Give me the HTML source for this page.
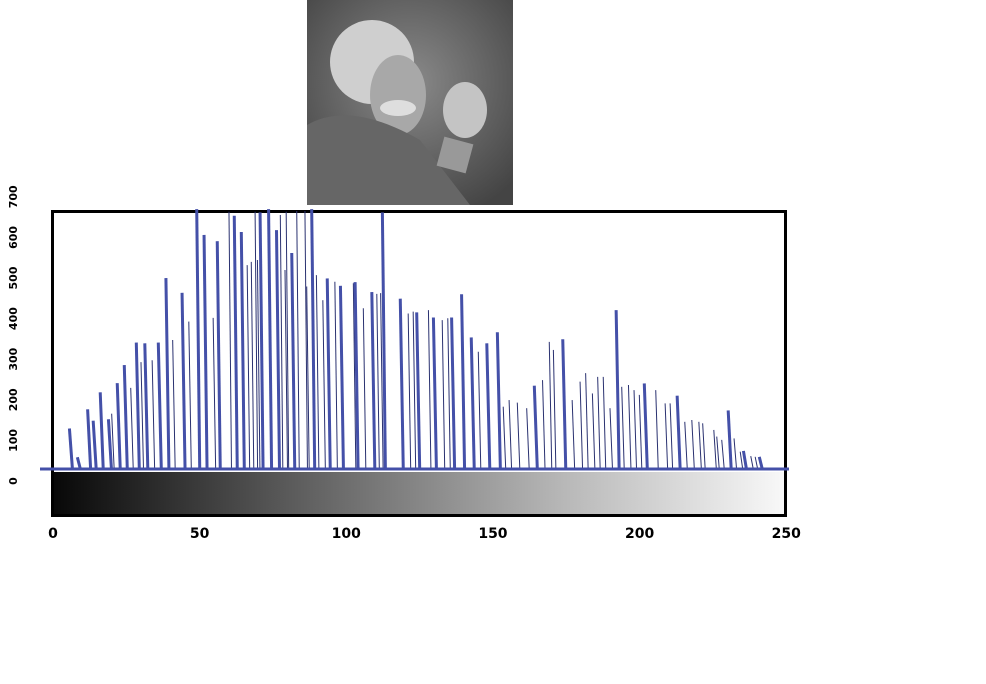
<!DOCTYPE html>
<html><head><meta charset="utf-8"><style>
body{margin:0;width:986px;height:680px;background:#fff;overflow:hidden;font-family:"DejaVu Sans","Liberation Sans",sans-serif}
</style></head><body>
<svg id="chart" width="986" height="680" xmlns="http://www.w3.org/2000/svg">
<defs>
<linearGradient id="gray" x1="0" x2="1" y1="0" y2="0"><stop offset="0" stop-color="#080808"/><stop offset="0.3" stop-color="#555"/><stop offset="0.7" stop-color="#b8b8b8"/><stop offset="1" stop-color="#f8f8f8"/></linearGradient>
<radialGradient id="bg" cx="0.5" cy="0.4" r="0.7"><stop offset="0" stop-color="#8a8a8a"/><stop offset="1" stop-color="#444"/></radialGradient>
</defs>
<g>
<rect x="307" y="0" width="206" height="205" fill="url(#bg)"/>
<ellipse cx="372" cy="62" rx="42" ry="42" fill="#cfcfcf"/>
<ellipse cx="398" cy="95" rx="28" ry="40" fill="#a8a8a8"/>
<ellipse cx="398" cy="108" rx="18" ry="8" fill="#dedede"/>
<path d="M307 125 Q350 100 420 140 L470 205 L307 205 Z" fill="#666"/>
<ellipse cx="465" cy="110" rx="22" ry="28" fill="#c4c4c4"/>
<rect x="440" y="140" width="30" height="30" fill="#999" transform="rotate(15 455 155)"/>
</g>
<rect x="52.5" y="211.5" width="733" height="304" fill="none" stroke="#000" stroke-width="3"/>
<rect x="54" y="472" width="730" height="42" fill="url(#gray)"/>
<g id="bars"></g>
<line x1="40" y1="469" x2="789" y2="469" stroke="#4450a8" stroke-width="3"/>
<g id="xt"></g><g id="yt"></g>
</svg>
<script>
const thickVals=[5.6,8.3,11.8,13.7,16.1,18.9,21.9,24.3,28.4,31.3,35.9,38.5,44,49,51.5,56,61.8,64.2,70.6,73.5,76.2,81.4,88.2,93.5,98,103,108.7,112.3,118.4,124,129.7,135.9,139.3,142.6,147.9,151.5,164.1,173.8,192,201.6,212.8,230.2,235.4,240.8];
const thickCounts=[110,32,162,131,208,135,233,282,343,341,343,518,478,705,635,618,687,643,696,705,648,586,705,517,497,507,480,696,462,425,411,411,474,357,341,371,226,352,431,232,199,159,49,33];
const thinVals=[20,26.5,30,33.8,40.8,46.3,54.6,60,66.2,67.6,68.9,69.7,77.5,79.1,79.5,83.1,85.9,86.5,89.8,92,96.1,102.4,105.8,110.4,111.7,121.1,122.8,128,132.7,134.6,145,153.5,155.5,158.3,161.5,166.9,169.2,170.6,177,179.7,181.6,183.9,185.7,187.6,189.9,193.9,196.2,198.1,199.9,205.5,208.7,210.4,215.4,217.8,220.2,221.5,225.3,226.3,228,232.2,234.3,237.9,239.4];
const thinCounts=[150,220,290,295,350,400,410,698,553,562,698,567,689,540,698,700,700,495,526,458,508,504,436,475,477,422,427,431,404,409,318,169,187,180,165,241,345,323,187,237,260,205,250,250,165,223,228,214,201,214,178,178,128,133,128,124,106,88,79,83,47,35,33];
const xTicks=[0,50,100,150,200,250];
const yTicks=[0,100,200,300,400,500,600,700];
const X=v=>53+v*2.933, Y=c=>469-Math.min(c,705)*0.3686;
const NS='http://www.w3.org/2000/svg';
const bars=document.getElementById('bars');
function bar(v,c,thick){const l=document.createElementNS(NS,'line');
l.setAttribute('x1',X(v));l.setAttribute('x2',X(v)+(thick?3:2.5));l.setAttribute('y1',Y(c));l.setAttribute('y2',469);
l.setAttribute('stroke',thick?'#4450a8':'#2a3170');l.setAttribute('stroke-width',thick?3:1);


bars.appendChild(l);}
thinVals.forEach((v,i)=>bar(v,thinCounts[i],false));
thickVals.forEach((v,i)=>bar(v,thickCounts[i],true));
const xt=document.getElementById('xt');
xTicks.forEach(t=>{const e=document.createElementNS(NS,'text');e.setAttribute('x',X(t));e.setAttribute('y',538);e.setAttribute('text-anchor','middle');e.setAttribute('font-size','14');e.setAttribute('font-weight','bold');e.textContent=t;


xt.appendChild(e);});
const yt=document.getElementById('yt');
yTicks.forEach(t=>{const y=481-t*0.406;const e=document.createElementNS(NS,'text');e.setAttribute('x',17);e.setAttribute('y',y);e.setAttribute('text-anchor','middle');e.setAttribute('font-size','11');e.setAttribute('font-weight','bold');e.setAttribute('transform','rotate(-90 17 '+y+')');e.textContent=t;


yt.appendChild(e);});
</script>
</body></html>
